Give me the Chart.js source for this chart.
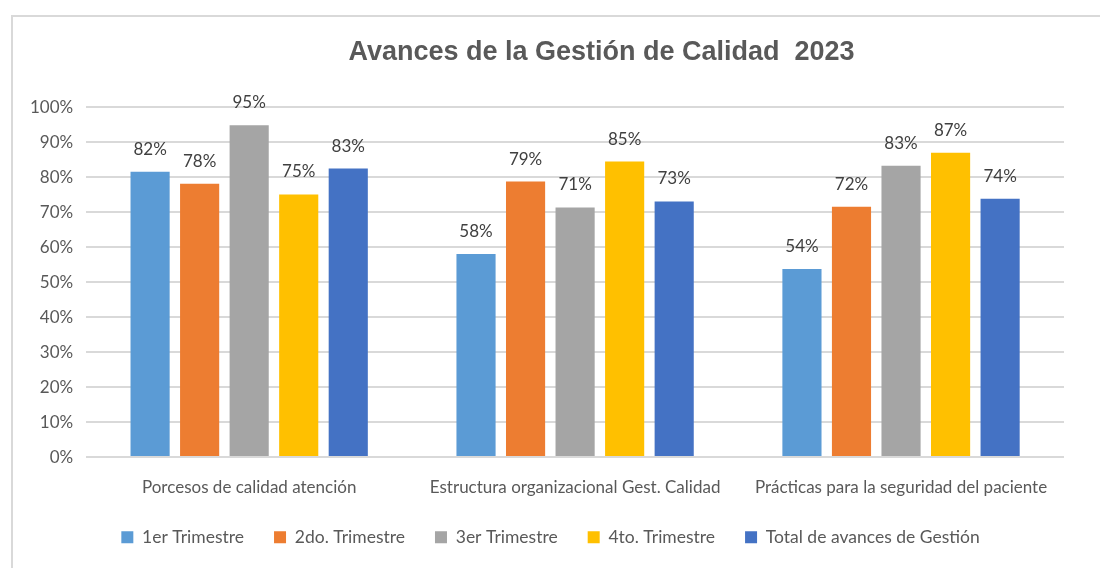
<!DOCTYPE html>
<html>
<head>
<meta charset="utf-8">
<script src="https://cdn.jsdelivr.net/npm/chart.js@4/dist/chart.umd.min.js"></script>
<style>
  html, body { margin: 0; padding: 0; background: #fff; }
  #frame { position: absolute; left: 11px; top: 15px; width: 1120px; height: 600px; border: 2px solid #d9d9d9; box-sizing: border-box; }
  #wrap { position: absolute; left: 0; top: 0; width: 1100px; height: 568px; }
</style>
</head>
<body>
<div id="frame"></div>
<div id="wrap"><canvas id="chart"></canvas></div>
<script>
const categories = [
  'Porcesos de calidad atención',
  'Estructura organizacional Gest. Calidad',
  'Prácticas para la seguridad del paciente'
];
const seriesNames = ['1er Trimestre', '2do. Trimestre', '3er Trimestre', '4to. Trimestre', 'Total de avances de Gestión'];
const trim1 = [81.6, 58.1, 53.8];
const trim2 = [78.2, 78.8, 71.6];
const trim3 = [94.9, 71.4, 83.3];
const trim4 = [75.1, 84.5, 87.0];
const total = [82.5, 73.1, 73.9];
const yTicks = [0, 10, 20, 30, 40, 50, 60, 70, 80, 90, 100];

const colors = ['#5b9bd5', '#ed7d31', '#a5a5a5', '#ffc000', '#4472c4'];
const seriesValues = [trim1, trim2, trim3, trim4, total];
const textFont = 'Lato, "Noto Sans", sans-serif';

const valueLabels = {
  id: 'valueLabels',
  afterDatasetsDraw(chart) {
    const ctx = chart.ctx;
    ctx.save();
    ctx.font = '17px ' + textFont;
    ctx.fillStyle = '#404040';
    ctx.textAlign = 'center';
    ctx.textBaseline = 'bottom';
    chart.data.datasets.forEach((ds, i) => {
      chart.getDatasetMeta(i).data.forEach((bar, j) => {
        ctx.fillText(Math.round(ds.data[j]) + '%', bar.x, bar.y - 14);
      });
    });
    ctx.restore();
  }
};

// title and legend sit a bit right of centre in the original
const nudge = {
  id: 'nudge',
  afterLayout(chart) {
    chart.titleBlock.left += 61;
    chart.titleBlock.right += 61;
    chart.legend.left += 10;
    chart.legend.right += 10;
  }
};

new Chart(document.getElementById('chart'), {
  type: 'bar',
  data: {
    labels: categories,
    datasets: seriesNames.map((name, i) => ({
      label: name,
      data: seriesValues[i],
      backgroundColor: colors[i],
      categoryPercentage: 0.76,
      barPercentage: 0.79
    }))
  },
  options: {
    responsive: true,
    maintainAspectRatio: false,
    animation: false,
    layout: { padding: { left: 17, right: 36, top: 0, bottom: 12 } },
    plugins: {
      title: {
        display: true,
        text: 'Avances de la Gestión de Calidad  2023',
        color: '#595959',
        font: { family: '"Liberation Sans", Arial, sans-serif', size: 27, weight: 'bold' },
        padding: { top: 36, bottom: 39 }
      },
      legend: {
        position: 'bottom',
        labels: {
          color: '#595959',
          font: { family: textFont, size: 17.5 },
          boxWidth: 12,
          boxHeight: 12,
          padding: 30
        }
      },
      tooltip: { enabled: false }
    },
    scales: {
      x: {
        grid: { display: false },
        border: { display: false },
        ticks: { color: '#595959', font: { family: textFont, size: 17 }, padding: 12 },
        afterFit: scale => { scale.height -= 11; }
      },
      y: {
        min: 0,
        max: 100,
        afterBuildTicks: axis => { axis.ticks = yTicks.map(v => ({ value: v })); },
        grid: { color: '#d9d9d9', lineWidth: 2, drawTicks: false },
        border: { display: false },
        ticks: { color: '#595959', font: { family: textFont, size: 17 }, padding: 13, callback: v => v + '%' }
      }
    }
  },
  plugins: [valueLabels, nudge]
});
</script>
</body>
</html>
